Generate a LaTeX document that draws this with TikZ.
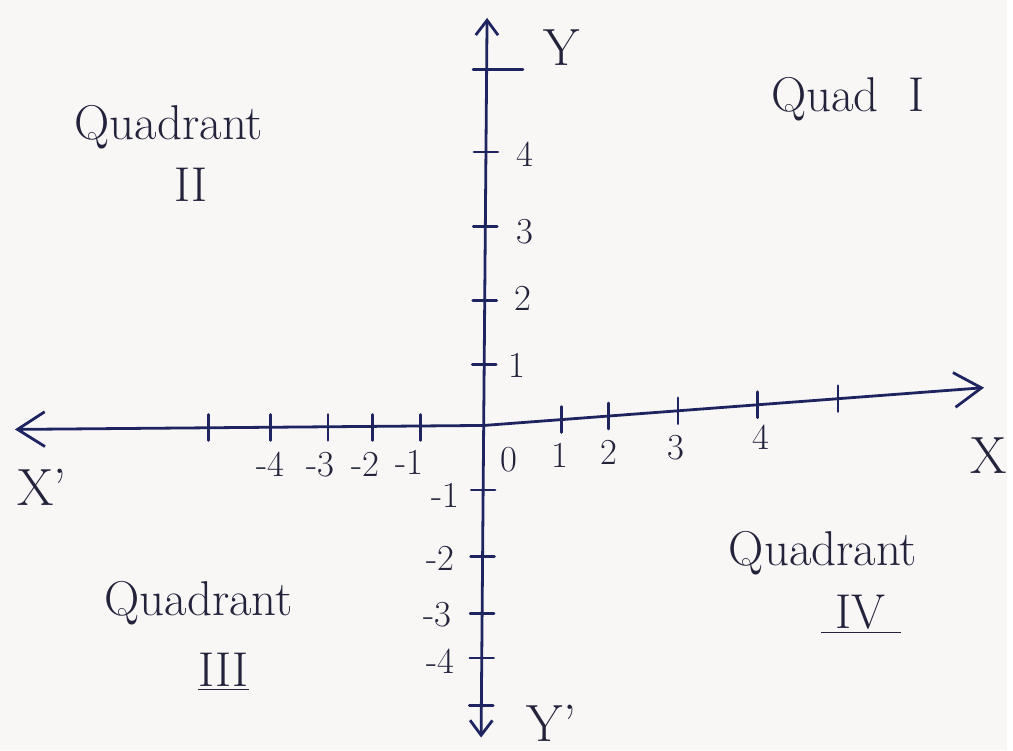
\documentclass[tikz,border=0pt]{standalone}
\usetikzlibrary{arrows.meta}
\definecolor{ink}{HTML}{1E2460}
\definecolor{pen}{HTML}{23233C}
\definecolor{paper}{HTML}{F9F7F6}
\tikzset{
    bigtip/.tip={Straight Barb[length=5.5mm,width=7mm]},
    smalltip/.tip={Straight Barb[length=3mm,width=4.5mm]}
}

\begin{document}
\begin{tikzpicture}[x=0.02cm, y=-0.02cm,
    axis/.style={draw=ink, line width=1.6pt, line cap=round},
    lbl/.style={text=pen, font=\fontsize{28}{32}\selectfont},
    axlbl/.style={text=pen, font=\fontsize{30}{34}\selectfont},
    num/.style={text=pen, font=\fontsize{21}{24}\selectfont, inner sep=0pt}]
    \fill[paper] (0,0) rectangle (1013,755);

    % axes
    \coordinate (xl) at (15,432);
    \coordinate (O) at (487,428);
    \coordinate (xr) at (990,390);
    \coordinate (yt) at (490,18);
    \coordinate (yb) at (484,742);
    \draw[axis, bigtip-bigtip] (xl) -- (O) -- (xr);
    \draw[axis, smalltip-smalltip] (yt) -- (yb);

    % ticks
    \foreach \x in {210,272,330,375,423}
        \draw[axis] (\x,417) -- (\x,443);
    \foreach \x in {565,612,682,762,843}
        \draw[axis] (\x,{428-(\x-487)*38/503-13}) -- ++(0,26);
    \foreach \y in {153,228,302,367,493,560,617,662,710}
        \draw[axis] ({490-(\y-18)/120-12},\y) -- ++(24,0);
    \draw[axis] (476,70) -- (526,70);

    % numbers
    \foreach \x/\y/\t [count=\i] in {272/467/-4, 322/467/-3, 368/467/-2, 412/465/-1,
        512/462/0, 563/458/1, 613/455/2, 680/450/3, 765/440/4}
        \node[num] (nx\i) at (\x,\y) {\t};
    \foreach \x/\y/\t [count=\i] in {528/155/4, 528/233/3, 526/300/2, 520/368/1,
        448/498/-1, 443/562/-2, 440/618/-3, 443/665/-4}
        \node[num] (ny\i) at (\x,\y) {\t};

    % axis names
    \node[axlbl] (ylab) at (565,48) {Y};
    \node[axlbl] (yblab) at (555,728) {Y'};
    \node[axlbl] (xlab) at (995,458) {X};
    \node[axlbl] (xllab) at (42,490) {X'};

    % quadrants
    \node[lbl] (q2) at (170,128) {Quadrant};
    \node[lbl] (q2n) at (192,186) {II};
    \node[lbl] (q1) at (853,100) {Quad\ \ I};
    \node[lbl] (q4) at (828,556) {Quadrant};
    \node[lbl] (q4n) at (866,618) {\underline{\ IV\ }};
    \node[lbl] (q3) at (200,607) {Quadrant};
    \node[lbl] (q3n) at (225,676) {\underline{III}};
\end{tikzpicture}
\end{document}
